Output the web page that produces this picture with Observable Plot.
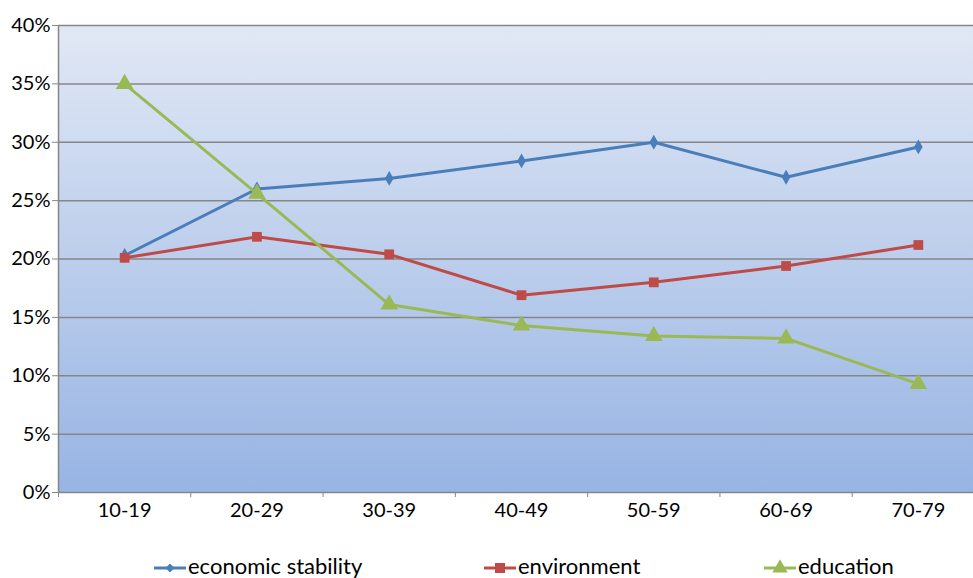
<!DOCTYPE html>
<html><head><meta charset="utf-8">
<script src="https://cdn.jsdelivr.net/npm/d3@7"></script>
<script src="https://cdn.jsdelivr.net/npm/@observablehq/plot@0.6"></script>
<style>
html,body{margin:0;padding:0;background:#fff;overflow:hidden;width:973px;height:578px;}
#chart{position:absolute;left:0;top:0;width:990px;}
#chart svg{max-width:none !important;}
#legend{position:absolute;left:0;top:554px;width:973px;height:24px;font-family:Lato,"Open Sans",sans-serif;font-size:22px;line-height:24px;color:#000;}
.item{position:absolute;top:0;display:flex;align-items:center;white-space:nowrap;}
.item svg{margin-right:2px;}
</style></head>
<body>
<div id="chart"></div>
<div id="legend"></div>
<script>
const categories = ["10-19","20-29","30-39","40-49","50-59","60-69","70-79"];
const economicStability = [20.3, 26.0, 26.9, 28.4, 30.0, 27.0, 29.6];
const environment = [20.1, 21.9, 20.4, 16.9, 18.0, 19.4, 21.2];
const education = [35.0, 25.6, 16.1, 14.3, 13.4, 13.2, 9.3];
const seriesNames = ["economic stability","environment","education"];
const yTicks = [0,5,10,15,20,25,30,35,40];

const colors = ["#4a7ebb","#be4b48","#98b954"];
const symbols = ["diamond","square","triangle"];
const radii = [4.5, 5.5, 6.5];
const allSeries = [economicStability, environment, education];

const data = [];
allSeries.forEach((vals, s) => vals.forEach((v, i) => data.push({series: seriesNames[s], i, cat: categories[i], v})));

const bounds = d3.range(categories.length + 1).map(d => d - 0.5);

const marks = [
  Plot.frame({fill: "url(#bgGrad)", stroke: "none"}),
  Plot.ruleY(yTicks, {stroke: "#868686", strokeWidth: 1.5, strokeOpacity: 1}),
  Plot.axisY({ticks: yTicks, tickFormat: d => d + "%", tickSize: 6, tickPadding: 2, stroke: "#868686", fontSize: 20, label: null}),
  Plot.axisX({ticks: bounds, tickFormat: () => "", tickSize: 5, stroke: "#868686", label: null}),
  Plot.axisX({ticks: d3.range(categories.length), tickFormat: i => categories[i], tickSize: 0, tickPadding: 10, fontSize: 20, label: null}),
  Plot.ruleX([-0.5], {stroke: "#868686", strokeWidth: 1.5})
];
seriesNames.forEach((name, s) => {
  const d = data.filter(r => r.series === name);
  marks.push(Plot.line(d, {x: "i", y: "v", stroke: colors[s], strokeWidth: 3}));
  marks.push(Plot.dot(d, {x: "i", y: "v", fill: colors[s], stroke: "none", symbol: symbols[s], r: radii[s]}));
});

const chart = Plot.plot({
  width: 990, height: 530,
  marginLeft: 58, marginRight: 6, marginTop: 25, marginBottom: 38,
  style: {fontFamily: "Lato, 'Open Sans', sans-serif", color: "#000", background: "transparent", overflow: "visible", maxWidth: "none"},
  x: {domain: [-0.5, categories.length - 0.5]},
  y: {domain: [0, 40]},
  marks
});
const svg = d3.select(chart);
svg.style("max-width", "none");
const defs = svg.insert("defs", ":first-child");
const g = defs.append("linearGradient").attr("id", "bgGrad").attr("x1", 0).attr("y1", 0).attr("x2", 0).attr("y2", 1);
g.append("stop").attr("offset", "0%").attr("stop-color", "#e1e8f5");
g.append("stop").attr("offset", "100%").attr("stop-color", "#97b4e3");
svg.selectAll("text").attr("fill", "#000");
document.getElementById("chart").appendChild(chart);

// legend
const legend = d3.select("#legend");
const lefts = [154, 484, 764];
seriesNames.forEach((name, s) => {
  const it = legend.append("div").attr("class", "item").style("left", lefts[s] + "px");
  const sw = it.append("svg").attr("width", 32).attr("height", 24);
  sw.append("line").attr("x1", 0).attr("x2", 32).attr("y1", 14).attr("y2", 14).attr("stroke", colors[s]).attr("stroke-width", 3);
  sw.append("path").attr("transform", "translate(16,14)").attr("d", d3.symbol(s === 0 ? d3.symbolDiamond2 : s === 1 ? d3.symbolSquare : d3.symbolTriangle, s === 0 ? 50 : 100)()).attr("fill", colors[s]);
  it.append("span").text(name);
});
</script>
</body></html>
